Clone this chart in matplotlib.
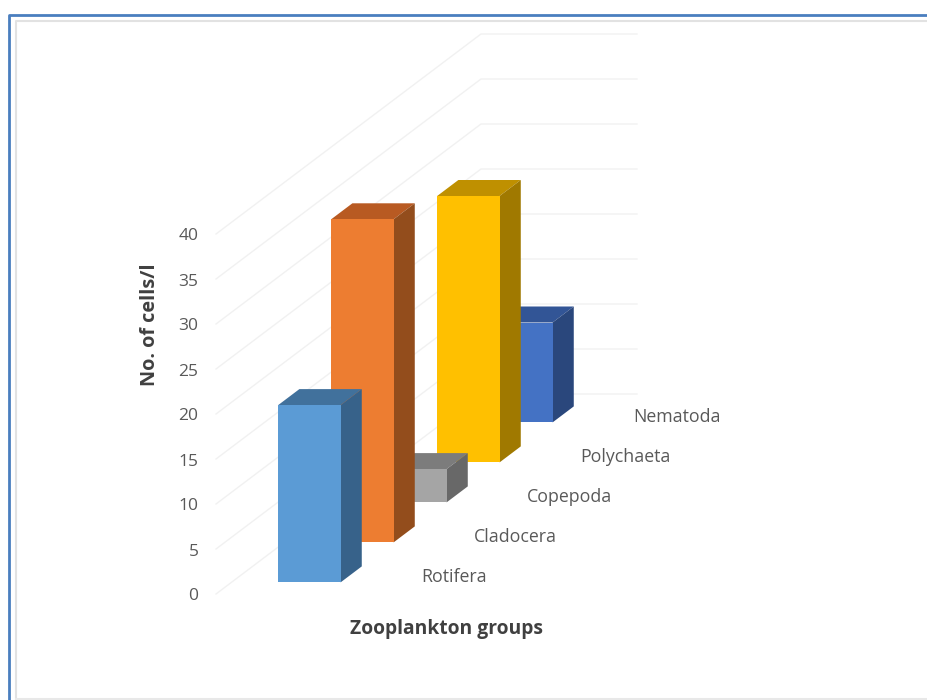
import matplotlib
matplotlib.use('Agg')
import matplotlib.pyplot as plt
from matplotlib.patches import Polygon

groups = ['Rotifera', 'Cladocera', 'Copepoda', 'Polychaeta', 'Nematoda']
cells = [19.7, 35.9, 3.7, 29.6, 11.1]
yticks = [0, 5, 10, 15, 20, 25, 30, 35, 40]
front = ['#5B9BD5', '#ED7D31', '#A5A5A5', '#FFC000', '#4472C4']
top = ['#41719C', '#B85A22', '#7C7C7C', '#BF9000', '#325596']
side = ['#37628A', '#934D1C', '#686868', '#A07900', '#2A477C']

plt.rcParams['font.family'] = ['Open Sans', 'DejaVu Sans']
fig = plt.figure(figsize=(9.28, 7), dpi=100)
ax = fig.add_axes([0, 0, 1, 1])
ax.set_xlim(0, 928)
ax.set_ylim(700, 0)
ax.axis('off')


# oblique projection: u across (0-1), d depth in categories, v value
def proj(u, d, v):
    return (216 + 156 * u + 53 * d, 594 - 40 * d - 9.0 * v)


# frame
ax.plot([9, 9, 928], [700, 15, 15], color='#4A7EBF', lw=2)
ax.plot([16, 16, 928], [700, 20.5, 20.5], color='#E2E2E2', lw=1.5)
ax.plot([16, 928], [699, 699], color='#E8E8E8', lw=1.5)

# walls
for t in yticks:
    p0 = proj(0, 0, t)
    p1 = proj(0, 5, t)
    p2 = proj(1, 5, t)
    ax.plot([p0[0], p1[0], p2[0]], [p0[1], p1[1], p2[1]], color='#F1F1F1', lw=1)
    ax.text(198.5, p0[1] + 2.5, str(t), ha='right', va='center', fontsize=12.5, color='#595959')

# bars, back to front
w0 = 0.30
w1 = 0.70
d0 = 0.29
d1 = 0.69
for i in range(len(groups) - 1, -1, -1):
    v = cells[i]
    a = proj(w0, i + d0, 0)
    b = proj(w1, i + d0, 0)
    c = proj(w1, i + d0, v)
    e = proj(w0, i + d0, v)
    f = proj(w0, i + d1, v)
    g = proj(w1, i + d1, v)
    h = proj(w1, i + d1, 0)
    ax.add_patch(Polygon([e, c, g, f], closed=True, fc=top[i], ec='none', zorder=3 + 5 - i))
    ax.add_patch(Polygon([b, h, g, c], closed=True, fc=side[i], ec='none', zorder=3 + 5 - i))
    ax.add_patch(Polygon([a, b, c, e], closed=True, fc=front[i], ec='none', zorder=3 + 5 - i))
    ax.text(421 + 53 * i, 576.5 - 40 * i, groups[i], ha='left', va='center', fontsize=12.8, color='#595959', zorder=10)

ax.text(150, 325, 'No. of cells/l', rotation=90, ha='center', va='center', fontsize=14.3, fontweight='bold', color='#404040')
ax.text(446.5, 629, 'Zooplankton groups', ha='center', va='center', fontsize=13.9, fontweight='bold', color='#404040')

fig.savefig('out.png', dpi=100)
